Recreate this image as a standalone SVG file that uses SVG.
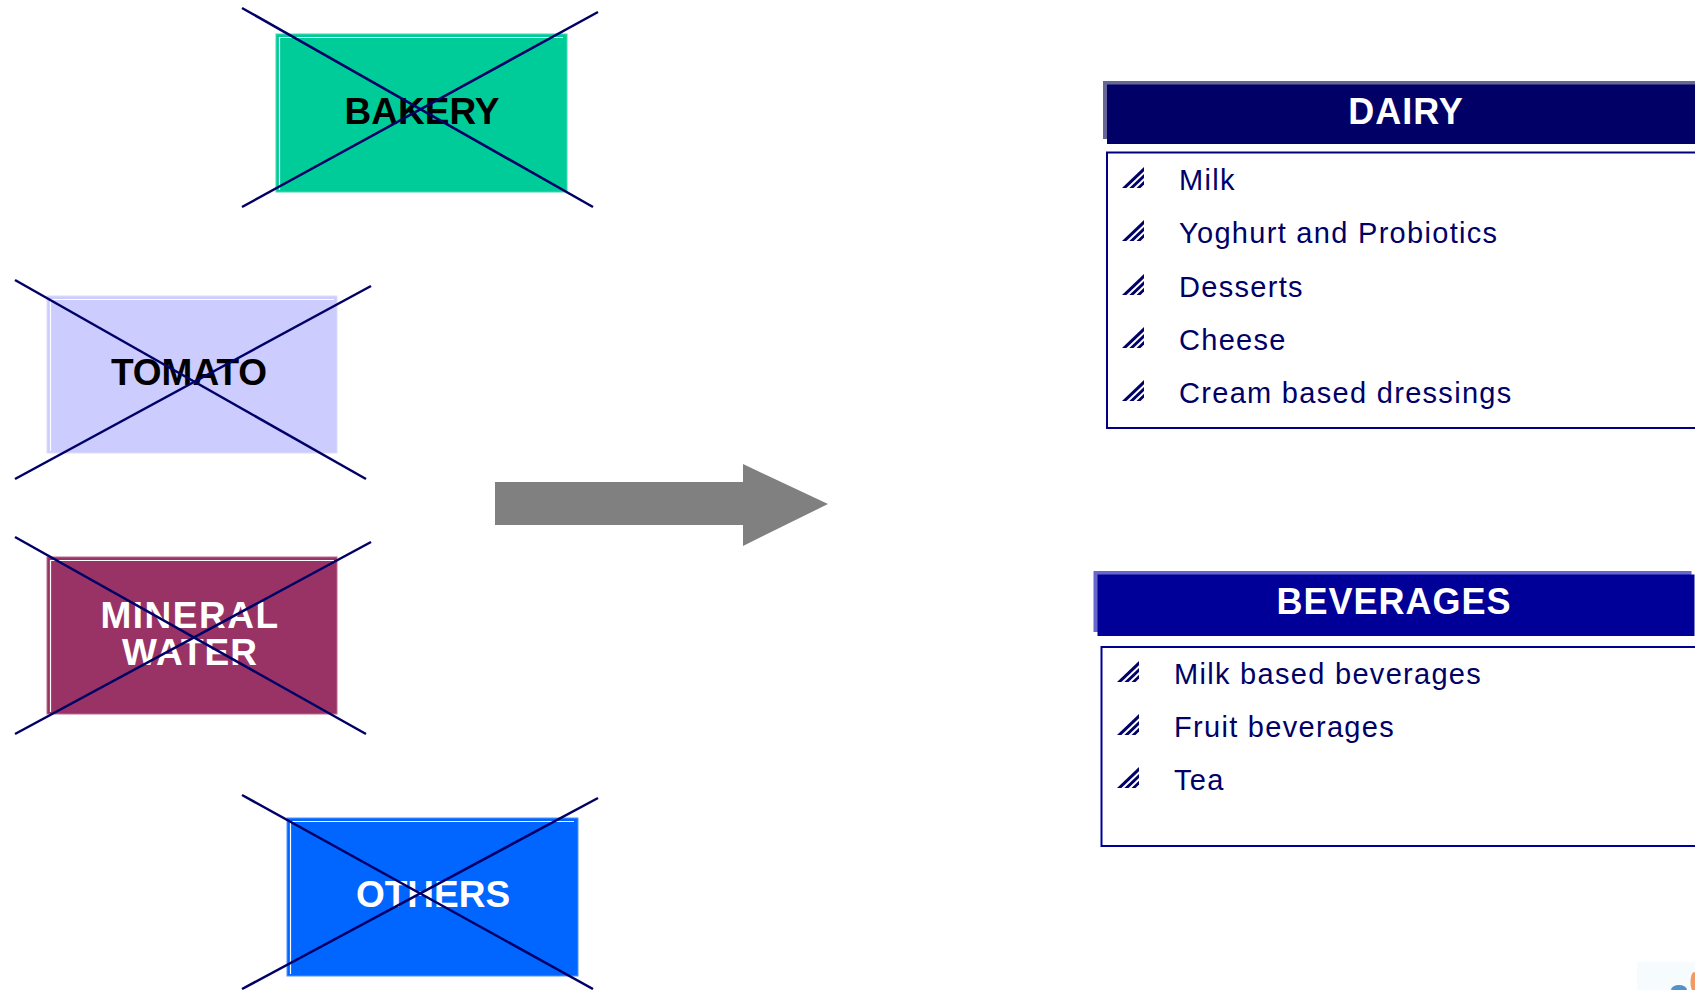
<svg xmlns="http://www.w3.org/2000/svg" xmlns:xlink="http://www.w3.org/1999/xlink" width="1695" height="990" viewBox="0 0 1695 990">
<style>
.lbl{font-family:"Liberation Sans",Arial,sans-serif;font-weight:bold;font-size:37px;text-anchor:middle}
.hdr{font-family:"Liberation Sans",Arial,sans-serif;font-weight:bold;font-size:36px;fill:#ffffff;text-anchor:middle;letter-spacing:1px}
.item{font-family:"Liberation Sans",Arial,sans-serif;font-size:29px;fill:#000066;letter-spacing:1.3px}
.x{stroke:#000066;stroke-width:2.5;fill:none}
.hl{stroke:#ffffff;stroke-width:1.2;fill:none}
</style>
<defs>
<g id="bul" fill="#000066">
<polygon points="0,21 22,0 22,4.2 4.4,21"/>
<polygon points="7.3,21 22,7 22,11 11.5,21"/>
<polygon points="14.5,21 22,13.8 22,17.6 18.5,21"/>
</g>
</defs>
<rect width="1695" height="990" fill="#ffffff"/>

<g id="bakery">
<rect x="276" y="34" width="291" height="158" fill="#00CC99" stroke="#40d8b0" stroke-width="1"/>
<polyline class="hl" points="279.5,190 279.5,37.5 563,37.5"/>
<text class="lbl" x="422" y="124" fill="#000000">BAKERY</text>
<line class="x" x1="242" y1="8" x2="593" y2="207"/>
<line class="x" x1="242" y1="207" x2="598" y2="12"/>
</g>

<g id="tomato">
<rect x="47" y="296" width="290" height="157" fill="#CCCCFF" stroke="#dcdcff" stroke-width="1"/>
<polyline class="hl" points="50.5,451 50.5,299.5 334,299.5"/>
<text class="lbl" x="189" y="385" fill="#000000">TOMATO</text>
<line class="x" x1="15" y1="280" x2="366" y2="479"/>
<line class="x" x1="15" y1="479" x2="371" y2="286"/>
</g>

<g id="mineral-water">
<rect x="47" y="557" width="290" height="157" fill="#993366" stroke="#b86a90" stroke-width="1"/>
<polyline class="hl" points="50.5,712 50.5,560.5 334,560.5"/>
<text class="lbl" x="190" y="628" fill="#ffffff" letter-spacing="1.5">MINERAL</text>
<text class="lbl" x="190" y="665" fill="#ffffff" letter-spacing="1">WATER</text>
<line class="x" x1="15" y1="537" x2="366" y2="734"/>
<line class="x" x1="15" y1="734" x2="371" y2="542"/>
</g>

<g id="others">
<rect x="287" y="818" width="291" height="158" fill="#0066FF" stroke="#4d94ff" stroke-width="1"/>
<polyline class="hl" points="290.5,974 290.5,821.5 574,821.5"/>
<text class="lbl" x="433" y="907" fill="#ffffff">OTHERS</text>
<line class="x" x1="242" y1="795" x2="593" y2="989"/>
<line class="x" x1="242" y1="989" x2="598" y2="798"/>
</g>

<g id="connectors">
<polygon points="495,482 743,482 743,464 828,504 743,546 743,525 495,525" fill="#808080"/>
</g>

<g id="dairy">
<rect x="1103" y="81" width="610" height="58" fill="#666699"/>
<rect x="1107" y="84.5" width="610" height="59.5" fill="#000066"/>
<text class="hdr" x="1406" y="124">DAIRY</text>
<rect x="1107" y="152.5" width="620" height="275.5" fill="none" stroke="#000080" stroke-width="2"/>
<use xlink:href="#bul" x="1122" y="167"/>
<text class="item" x="1179" y="190">Milk</text>
<use xlink:href="#bul" x="1122" y="220"/>
<text class="item" x="1179" y="243">Yoghurt and Probiotics</text>
<use xlink:href="#bul" x="1122" y="274"/>
<text class="item" x="1179" y="297">Desserts</text>
<use xlink:href="#bul" x="1122" y="327"/>
<text class="item" x="1179" y="350">Cheese</text>
<use xlink:href="#bul" x="1122" y="380"/>
<text class="item" x="1179" y="403">Cream based dressings</text>
</g>

<g id="beverages">
<rect x="1093.5" y="571" width="598" height="61" fill="#6666CC"/>
<rect x="1097.5" y="574.5" width="597" height="61.5" fill="#000099"/>
<text class="hdr" x="1394" y="614">BEVERAGES</text>
<rect x="1101.5" y="647" width="620" height="199" fill="none" stroke="#000099" stroke-width="2"/>
<use xlink:href="#bul" x="1117" y="661"/>
<text class="item" x="1174" y="684">Milk based beverages</text>
<use xlink:href="#bul" x="1117" y="714"/>
<text class="item" x="1174" y="737">Fruit beverages</text>
<use xlink:href="#bul" x="1117" y="767"/>
<text class="item" x="1174" y="790">Tea</text>
</g>

<g id="logo-fragment" opacity="0.8">
<rect x="1637" y="962" width="58" height="28" fill="#f5fcfe"/>
<ellipse cx="1679" cy="990" rx="8" ry="5" fill="#2a78b8"/>
<ellipse cx="1694" cy="982" rx="3.5" ry="10" fill="#f08040"/>
</g>
</svg>
